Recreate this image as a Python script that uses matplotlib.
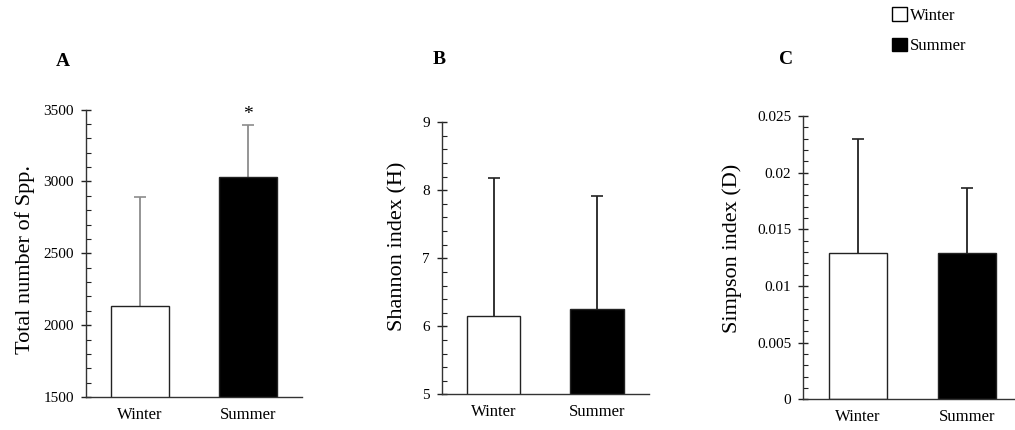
import matplotlib
matplotlib.use("Agg")
import matplotlib.pyplot as plt
from matplotlib.patches import Patch
from matplotlib.ticker import MultipleLocator

plt.rcParams['font.family'] = ['Liberation Serif', 'DejaVu Serif']

seasons = ["Winter", "Summer"]
colors = ["white", "black"]

spp_mean = [2133, 3028]
spp_err = [760, 366]

shannon_mean = [6.15, 6.26]
shannon_err = [2.03, 1.65]

simpson_mean = [0.01294, 0.01288]
simpson_err = [0.0100, 0.0058]

fig = plt.figure(figsize=(10.15, 4.3), dpi=100)

panels = [
    dict(rect=[0.0847, 0.0767, 0.2128, 0.6686], mean=spp_mean, err=spp_err,
         ylim=(1500, 3500), major=500, minor=100, ylabel="Total number of Spp.",
         fmt=lambda v: f"{v:.0f}", ecolor="#8c8c8c", width=0.53,
         lab=(63, 61, "A"), labcoords=(-0.236, 0.477)),
    dict(rect=[0.4352, 0.0830, 0.2042, 0.6326], mean=shannon_mean, err=shannon_err,
         ylim=(5, 9), major=1, minor=0.2, ylabel="Shannon index (H)",
         fmt=lambda v: f"{v:.0f}", ecolor="#222222", width=0.52,
         lab=(439, 60, "B"), labcoords=(-0.163, 0.545)),
    dict(rect=[0.7914, 0.0714, 0.2148, 0.6588], mean=simpson_mean, err=simpson_err,
         ylim=(0, 0.025), major=0.005, minor=0.001, ylabel="Simpson index (D)",
         fmt=lambda v: "0" if v == 0 else f"{v:g}", ecolor="#222222", width=0.53,
         lab=(786, 60, "C"), labcoords=(-0.281, 0.534)),
]

for p in panels:
    ax = fig.add_axes(p["rect"])
    x = [0, 1]
    ax.bar(x, p["mean"], width=p["width"], color=colors, edgecolor="#222222",
           linewidth=1.0, bottom=0 if p["ylim"][0] == 0 else None, zorder=2)
    eb = ax.errorbar(x, p["mean"], yerr=[[0, 0], p["err"]], fmt="none",
                     ecolor=p["ecolor"], elinewidth=1.3, capsize=4, capthick=1.2,
                     zorder=1)
    caps = eb[1]
    if len(caps) == 2:
        caps[0].set_visible(False)
        caps[1].set_color("#222222")
    ax.set_xlim(-0.5, 1.5)
    ax.set_ylim(*p["ylim"])
    ax.set_xticks(x)
    ax.set_xticklabels(seasons, fontsize=12)
    ax.yaxis.set_major_locator(MultipleLocator(p["major"]))
    ax.yaxis.set_minor_locator(MultipleLocator(p["minor"]))
    ax.set_yticklabels([p["fmt"](round(v, 6)) for v in ax.get_yticks()], fontsize=11)
    ax.tick_params(axis="x", length=0, pad=7)
    ax.tick_params(axis="y", which="major", direction="inout", length=7, width=1,
                   color="#222222", pad=5)
    ax.tick_params(axis="y", which="minor", direction="in", length=3.5, width=0.8,
                   color="#222222")
    for s in ["top", "right"]:
        ax.spines[s].set_visible(False)
    for s in ["left", "bottom"]:
        ax.spines[s].set_color("#333333")
        ax.spines[s].set_linewidth(1.0)
    ax.set_ylabel(p["ylabel"], fontsize=16)
    ax.yaxis.set_label_coords(*p["labcoords"])
    lx, ly, lt = p["lab"]
    fig.text(lx / 1015, 1 - ly / 430, lt, fontsize=14, fontweight="bold",
             ha="center", va="center")
    if lt == "A":
        ax.annotate("*", xy=(1, spp_mean[1] + spp_err[1]), xytext=(0, 1),
                    textcoords="offset points", ha="center", va="bottom",
                    fontsize=14)

handles = [Patch(facecolor="white", edgecolor="black", linewidth=1.0),
           Patch(facecolor="black", edgecolor="black", linewidth=1.0)]
fig.legend(handles, seasons, loc="upper left", bbox_to_anchor=(889 / 1015, 1 - 4 / 430),
           frameon=False, fontsize=12, handlelength=0.85, handleheight=0.85,
           handletextpad=0.2, labelspacing=0.85, borderaxespad=0, borderpad=0.2)

fig.savefig("out.png", dpi=100)
